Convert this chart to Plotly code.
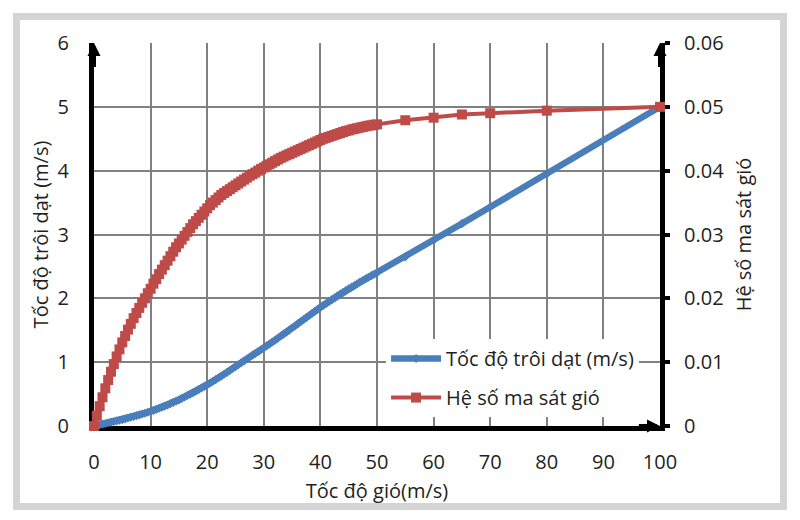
import plotly.graph_objects as go

# Wind speed (m/s): 0 to 50 every 0.5, then sparse points
wind = [i * 0.5 for i in range(101)] + [55, 60, 65, 70, 80, 100]

# Drift speed (m/s) - left axis
drift = [0, 0.01, 0.02, 0.03, 0.04, 0.05, 0.06, 0.07, 0.08, 0.09,
         0.10, 0.112, 0.125, 0.137, 0.15, 0.162, 0.175, 0.187, 0.20, 0.215,
         0.23, 0.245, 0.26, 0.277, 0.295, 0.312, 0.33, 0.35, 0.37, 0.39,
         0.41, 0.432, 0.455, 0.477, 0.50, 0.522, 0.545, 0.57, 0.595, 0.62,
         0.645, 0.672, 0.70, 0.727, 0.755, 0.782, 0.81, 0.84, 0.87, 0.90,
         0.93, 0.96, 0.99, 1.02, 1.05, 1.08, 1.11, 1.137, 1.165, 1.195,
         1.225, 1.255, 1.285, 1.315, 1.345, 1.377, 1.41, 1.44, 1.47, 1.502,
         1.535, 1.567, 1.60, 1.632, 1.665, 1.697, 1.73, 1.762, 1.795, 1.827,
         1.86, 1.89, 1.92, 1.95, 1.98, 2.01, 2.04, 2.067, 2.095, 2.122,
         2.15, 2.175, 2.20, 2.227, 2.255, 2.28, 2.305, 2.33, 2.355, 2.377,
         2.40,
         2.65, 2.91, 3.17, 3.43, 3.95, 5.00]

# Wind friction coefficient - right axis
friction = [0, 0.0016, 0.0031, 0.0045, 0.0059, 0.0072, 0.0085, 0.0097, 0.0109, 0.0120,
            0.0131, 0.0141, 0.0151, 0.0160, 0.0169, 0.0177, 0.0185, 0.0193, 0.0200, 0.0208,
            0.0215, 0.0223, 0.0230, 0.0238, 0.0245, 0.0252, 0.0259, 0.0266, 0.0273, 0.0280,
            0.0286, 0.0292, 0.0298, 0.0304, 0.0310, 0.0316, 0.0321, 0.0326, 0.0331, 0.0336,
            0.0341, 0.0346, 0.0350, 0.0354, 0.0358, 0.0362, 0.0365, 0.0368, 0.0371, 0.0374,
            0.0377, 0.0380, 0.0383, 0.0386, 0.0389, 0.0392, 0.03945, 0.0397, 0.0400, 0.04025,
            0.0405, 0.04075, 0.0410, 0.04125, 0.0415, 0.04175, 0.0420, 0.0422, 0.0424, 0.0426,
            0.0428, 0.0430, 0.0432, 0.0434, 0.0436, 0.0438, 0.0440, 0.0442, 0.0444, 0.0446,
            0.0448, 0.0450, 0.04515, 0.0453, 0.04545, 0.0456, 0.04575, 0.0459, 0.04605, 0.0462,
            0.0463, 0.04645, 0.04655, 0.04665, 0.04675, 0.04685, 0.04695, 0.04705, 0.0471, 0.0472,
            0.04725,
            0.0479, 0.0483, 0.0488, 0.0490, 0.0494, 0.0500]

y2_ticks = [0, 0.01, 0.02, 0.03, 0.04, 0.05, 0.06]
y2_ticktext = ["0", "0.01", "0.02", "0.03", "0.04", "0.05", "0.06"]

name_drift = "Tốc độ trôi dạt (m/s)"
name_fric = "Hệ số ma sát gió"
x_title = "Tốc độ gió(m/s)"
y_title = "Tốc độ trôi dạt (m/s)"
y2_title = "Hệ số ma sát gió"

FONT = "Open Sans"
TXT = "#231f20"
BLUE = "#4a7ebb"
RED = "#be4b48"
GRID = "#808080"

fig = go.Figure()
fig.add_trace(go.Scatter(
    x=wind, y=drift, name=name_drift, mode="lines+markers",
    line=dict(color=BLUE, width=6.5), marker=dict(symbol="diamond", size=7, color=BLUE),
    cliponaxis=False, legendgroup="a"))
fig.add_trace(go.Scatter(
    x=wind, y=friction, name=name_fric, mode="lines+markers", yaxis="y2",
    line=dict(color=RED, width=4), marker=dict(symbol="square", size=10, color=RED),
    cliponaxis=False, legendgroup="b"))

fig.update_layout(
    width=800, height=520,
    margin=dict(l=94, r=140, t=43, b=94),
    paper_bgcolor="white", plot_bgcolor="white",
    font=dict(family=FONT, size=20, color=TXT),
    showlegend=True,
    legend=dict(x=0.516, y=0.227, xanchor="left", yanchor="top",
                bgcolor="white", borderwidth=0, font=dict(size=20),
                itemwidth=50, traceorder="grouped", tracegroupgap=10),
    xaxis=dict(range=[0, 100], dtick=10, showgrid=True, gridcolor=GRID, gridwidth=2,
               zeroline=False, showline=True, linecolor="black", linewidth=5,
               ticks="", ticklabelstandoff=14, layer="below traces",
               title=dict(text=x_title, standoff=11, font=dict(size=20))),
    yaxis=dict(range=[0, 6], dtick=1, showgrid=True, gridcolor=GRID, gridwidth=2,
               zeroline=False, showline=True, linecolor="black", linewidth=5,
               ticks="", ticklabelstandoff=16, layer="below traces",
               title=dict(text=y_title, standoff=5, font=dict(size=20))),
    yaxis2=dict(range=[0, 0.06], tickvals=y2_ticks, ticktext=y2_ticktext,
                overlaying="y", side="right",
                showgrid=False, zeroline=False, showline=True, linecolor="black",
                linewidth=5, ticks="outside", ticklen=5, tickwidth=4, tickcolor="black",
                ticklabelstandoff=10, layer="below traces",
                title=dict(text=y2_title, standoff=15, font=dict(size=20))),
    shapes=[dict(type="rect", xref="paper", yref="paper",
                 x0=(16.5 - 94) / 566, x1=(783.5 - 94) / 566,
                 y0=(426 - 506.5) / 383, y1=(426 - 16.5) / 383,
                 line=dict(color="#d4d4d4", width=7), fillcolor="rgba(0,0,0,0)",
                 layer="below")],
    annotations=[
        dict(x=0, y=6, ax=0, ay=5.6, xref="x", yref="y", axref="x", ayref="y",
             showarrow=True, arrowhead=2, arrowsize=0.65, arrowwidth=4, arrowcolor="black", text=""),
        dict(x=100, y=6, ax=100, ay=5.6, xref="x", yref="y", axref="x", ayref="y",
             showarrow=True, arrowhead=2, arrowsize=0.65, arrowwidth=4, arrowcolor="black", text=""),
        dict(x=100, y=0, ax=96, ay=0, xref="x", yref="y", axref="x", ayref="y",
             showarrow=True, arrowhead=2, arrowsize=0.65, arrowwidth=4, arrowcolor="black", text=""),
    ],
)
fig.write_html("out.html")
